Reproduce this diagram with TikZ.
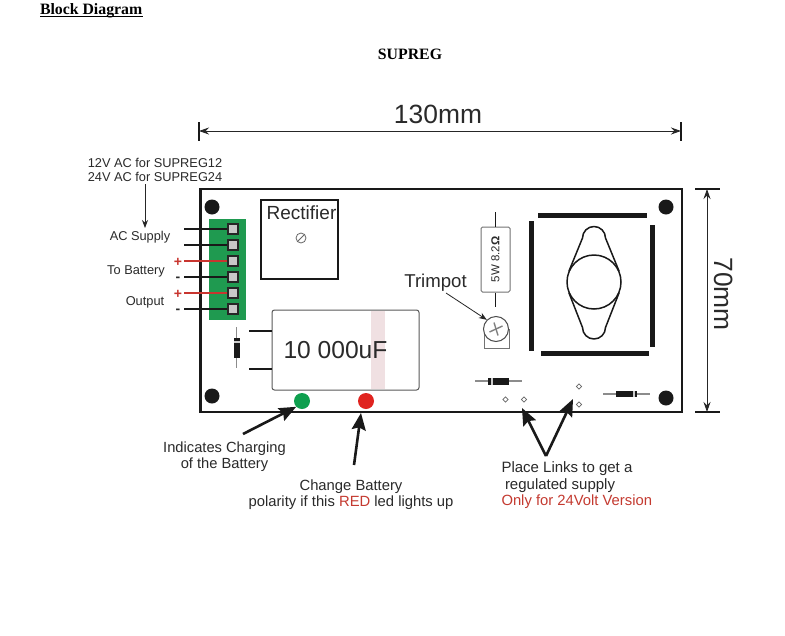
\documentclass[tikz,border=0pt]{standalone}
\usepackage{fontspec}
\setmainfont{Liberation Sans}
\newfontfamily\serifbold[BoldFont={Liberation Serif Bold}]{Liberation Serif}
\usetikzlibrary{arrows.meta,calc,shapes.geometric}
\definecolor{txt}{HTML}{2A2A2A}
\definecolor{pcbgreen}{HTML}{1F9A50}
\definecolor{wirered}{HTML}{C8352F}
\definecolor{ledgreen}{HTML}{0E9F4E}
\definecolor{ledred}{HTML}{E0231F}
\definecolor{redtxt}{HTML}{C43A30}
\definecolor{pinkstrip}{HTML}{F0E0E2}
\definecolor{padgrey}{HTML}{C8C8C8}
\newcommand{\fs}[1]{\fontsize{#1}{#1}\selectfont}
\tikzset{
  lbl/.style={inner sep=0pt,outer sep=0pt,text=txt,anchor=base},
  lblw/.style={lbl,anchor=base west},
  hole/.style={circle,fill=black!90,inner sep=0pt,minimum size=15pt},
  term/.style={draw=black!85,line width=2pt,fill=padgrey,inner sep=0pt,minimum size=10pt},
  wire/.style={line width=1.8pt,black!90},
  redwire/.style={line width=1.8pt,wirered},
  thinarrow/.style={line width=0.8pt,black!85,-{Stealth[length=8pt,width=6pt]}},
  fatarrow/.style={line width=2.6pt,black!90,-{Stealth[length=17pt,width=14pt,inset=2.5pt]}},
  dimline/.style={line width=0.9pt,black!85,{Stealth[length=10pt,width=7pt]}-{Stealth[length=10pt,width=7pt]}},
  tick/.style={line width=1.6pt,black!90},
  sinkbar/.style={fill=black!90,draw=none},
  pad/.style={diamond,draw=black!60,line width=0.7pt,inner sep=0pt,minimum size=5.5pt,fill=white},
  lead/.style={line width=1.3pt,black!45},
  led/.style={circle,inner sep=0pt,minimum size=16pt},
}
\begin{document}
\begin{tikzpicture}[x=1pt,y=-1pt]
\useasboundingbox (0,0) rectangle (785,635);
\fill[white] (0,0) rectangle (785,635);
% headings
\node[lblw,text=black] (title) at (40,14) {\serifbold\fs{15.8}\textbf{Block Diagram}};
\draw[line width=1.2pt,black] (40,16.5) -- (142.5,16.5);
\node[lbl,text=black] (sup) at (410,59) {\serifbold\fs{15.8}\textbf{SUPREG}};
% dimensions
\node[lbl] (w) at (438,123) {\fs{26.4}130mm};
\coordinate (wa) at (199,131); \coordinate (wb) at (681,131);
\draw[tick] (199,122) -- (199,141);
\draw[tick] (681,122) -- (681,141);
\draw[dimline] (wa) -- (wb);
\node[lbl,rotate=-90] (h) at (714,294) {\fs{26.4}70mm};
\coordinate (ha) at (707,189); \coordinate (hb) at (707,412);
\draw[tick] (695,189) -- (720,189);
\draw[tick] (695,412) -- (720,412);
\draw[dimline] (ha) -- (hb);
% board
\draw[line width=2.2pt,black!90] (200.5,189) rectangle (682,412);
\node[hole] (h1) at (212,207) {};
\node[hole] (h2) at (212,396) {};
\node[hole] (h3) at (666,207) {};
\node[hole] (h4) at (666,398) {};
% terminal block
\fill[pcbgreen] (209,219) rectangle (246,320);
\foreach \n/\y in {1/229,2/245,3/261,4/277,5/293,6/309}{
  \coordinate (w\n) at (184,\y);
  \node[term] (t\n) at (233,\y) {};
}
\draw[wire] (w1) -- (t1.west);
\draw[wire] (w2) -- (t2.west);
\draw[redwire] (w3) -- (t3.west);
\draw[wire] (w4) -- (t4.west);
\draw[redwire] (w5) -- (t5.west);
\draw[wire] (w6) -- (t6.west);
\node[lbl,text=wirered] (p1) at (178,266) {\fs{14}\textbf{+}};
\node[lbl] (m1) at (178,281) {\fs{14}\textbf{-}};
\node[lbl,text=wirered] (p2) at (178,298) {\fs{14}\textbf{+}};
\node[lbl] (m2) at (178,313) {\fs{14}\textbf{-}};
% left labels
\node[lbl] (l1) at (155,167) {\fs{12.8}12V AC for SUPREG12};
\node[lbl] (l2) at (155,181) {\fs{12.8}24V AC for SUPREG24};
\node[lbl] (ac) at (140,240.5) {\fs{12.8}AC Supply};
\node[lbl] (bat) at (136,274.5) {\fs{12.8}To Battery};
\node[lbl] (out) at (145,305.5) {\fs{12.8}Output};
\coordinate (aca) at (145,184); \coordinate (acb) at (145,228);
\draw[thinarrow] (aca) -- (acb);
% rectifier
\node[draw=black!90,line width=1.8pt,minimum width=77pt,minimum height=79pt,inner sep=0pt] (rect) at (299.5,239.5) {};
\node[lbl] (rt) at (301.5,219) {\fs{19}Rectifier};
\node[circle,draw=black!60,line width=0.8pt,inner sep=0pt,minimum size=10pt] (rc) at (301,238) {};
\draw[line width=0.8pt,black!60] (rc.south west) -- (rc.north east);
% capacitor
\fill[pinkstrip] (371,311) rectangle (385,389);
\draw[black!65,line width=1pt,rounded corners=2.5pt] (272,310) rectangle (419,390);
\node[lbl] (ct) at (335.5,358) {\fs{24.6}10 000uF};
\coordinate (c1) at (272,331); \coordinate (c2) at (272,369);
\draw[wire] (249,331) -- (c1);
\draw[wire] (249,369) -- (c2);
% vertical diode
\draw[lead] (236.5,327) -- (236.5,368);
\fill[black!90] (233.5,338) rectangle (239.5,357.5);
\fill[white!80!black] (233.5,340.5) rectangle (239.5,342.5);
% LEDs
\node[led,fill=ledgreen] (lg) at (302,401) {};
\node[led,fill=ledred] (lr) at (366,401) {};
% resistor
\node[draw=black!55,fill=white,line width=1pt,rounded corners=1.5pt,minimum width=29pt,minimum height=65pt,inner sep=0pt] (res) at (495.5,259.5) {};
\coordinate (r1) at (495.5,212); \coordinate (r2) at (495.5,307);
\draw[wire] (r1) -- (res.north);
\draw[wire] (res.south) -- (r2);
\node[inner sep=0pt,rotate=90,text=txt] (rt2) at (495.5,259.5) {\fs{11.5}5W 8.2\textbf{Ω}};
% trimpot
\draw[black!55,line width=0.9pt] (484,329) -- (484,348) -- (509,348) -- (509,329);
\node[circle,draw=black!70,fill=white,line width=1pt,inner sep=0pt,minimum size=25pt] (tp) at (496,329) {};
\draw[line width=1.4pt,black!50] (489.5,332) -- (502.5,326);
\draw[line width=1.4pt,black!50] (494,322.5) -- (498,335.5);
\node[lbl] (tt) at (435.5,287.5) {\fs{18.6}Trimpot};
\coordinate (tta) at (446,293);
\draw[thinarrow] (tta) -- (tp.north west);
% heat sink
\fill[sinkbar] (538,212.5) rectangle (647,217.5);
\fill[sinkbar] (541,350.5) rectangle (648.5,355.5);
\fill[sinkbar] (528.5,221) rectangle (533.5,351);
\fill[sinkbar] (650,225) rectangle (655,347);
\node[circle,draw=black!90,line width=1.5pt,inner sep=0pt,minimum size=54pt] (reg) at (594,282) {};
\draw[line width=1.5pt,black!90,line join=round] (569,271) -- (582.5,238) arc[start angle=180,end angle=360,radius=11.5] -- (619,271);
\draw[line width=1.5pt,black!90,line join=round] (569,293) -- (582.5,327.5) arc[start angle=180,end angle=0,radius=11.5] -- (619,293);
% axial diodes
\draw[lead] (475,381) -- (522,381);
\fill[black!90] (488,378) rectangle (509,384.5);
\fill[white!80!black] (491,378) rectangle (493,384.5);
\draw[lead] (603,394) -- (650,394);
\fill[black!90] (616,390.5) rectangle (637,397);
\fill[white!80!black] (632.5,390.5) rectangle (634.5,397);
% link pads
\node[pad] (a1) at (505.5,399.5) {};
\node[pad] (a2) at (524,399.5) {};
\node[pad] (b1) at (579,386.5) {};
\node[pad] (b2) at (579,404.5) {};
% callouts
\coordinate (ga) at (243,434); \draw[fatarrow] (ga) -- (lg.south west);
\coordinate (ra) at (354,465); \coordinate (rb) at (361,413); \draw[fatarrow] (ra) -- (rb);
\coordinate (apex) at (546,456); \coordinate (la) at (522,408); \coordinate (lb) at (573,399);
\draw[fatarrow] (apex) -- (la);
\draw[fatarrow] (apex) -- (lb);
% captions
\node[lbl] (c3) at (224.5,452) {\fs{14.7}Indicates Charging};
\node[lbl] (c4) at (224.5,468) {\fs{14.7}of the Battery};
\node[lbl] (c5) at (351,490) {\fs{14.8}Change Battery};
\node[lbl] (c6) at (351,506) {\fs{14.8}polarity if this \textcolor{redtxt}{RED} led lights up};
\node[lblw] (c7) at (501.5,472) {\fs{15}Place Links to get a};
\node[lblw] (c8) at (505,489) {\fs{15}regulated supply};
\node[lblw,text=redtxt] (c9) at (501.5,505) {\fs{14.8}Only for 24Volt Version};
\end{tikzpicture}
\end{document}
